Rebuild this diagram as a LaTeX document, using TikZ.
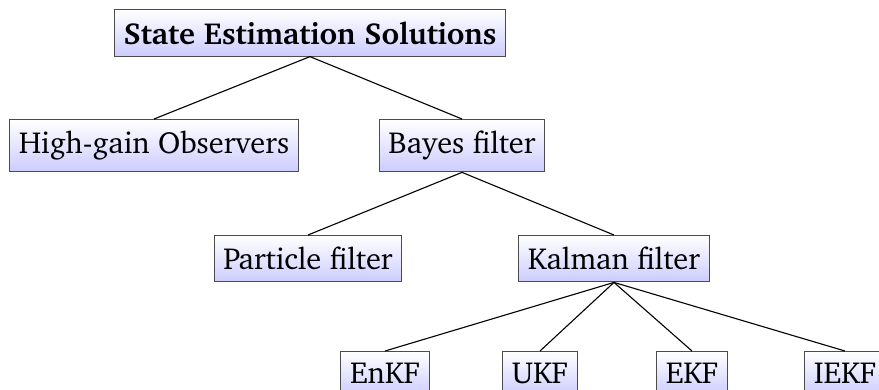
\documentclass[tikz,border=0pt]{standalone}
\usepackage[T1]{fontenc}
\usepackage{charter}

\tikzset{
  est/.style={draw=black!70, top color=white, bottom color=blue!20,
    font=\fontsize{10.95}{13.6}\selectfont, inner ysep=4.2pt, anchor=north},
  branch/.style={black, line width=0.4pt}
}

\begin{document}
\begin{tikzpicture}[x=0.36pt,y=-0.36pt]
    \useasboundingbox (0,0) rectangle (879,389);
    % top
    \node[est,font=\fontsize{10.95}{13.6}\selectfont\bfseries] (root) at (310,9) {State Estimation Solutions};
    % second row
    \node[est] (hgo) at (154,119) {High-gain Observers};
    \node[est] (bayes) at (462,119) {Bayes filter};
    % third row
    \node[est] (pf) at (308,235) {Particle filter};
    \node[est] (kf) at (614,235) {Kalman filter};
    % variants of the Kalman filter
    \node[est] (enkf) at (385,351) {EnKF};
    \node[est] (ukf) at (540,351) {UKF};
    \node[est] (ekf) at (692,351) {EKF};
    \node[est] (iekf) at (845,351) {IEKF};
    \draw[branch] (root.south) -- (hgo.north);
    \draw[branch] (root.south) -- (bayes.north);
    \draw[branch] (bayes.south) -- (pf.north);
    \draw[branch] (bayes.south) -- (kf.north);
    \foreach \v in {enkf,ukf,ekf,iekf}
      \draw[branch] (kf.south) -- (\v.north);
  \end{tikzpicture}
\end{document}
